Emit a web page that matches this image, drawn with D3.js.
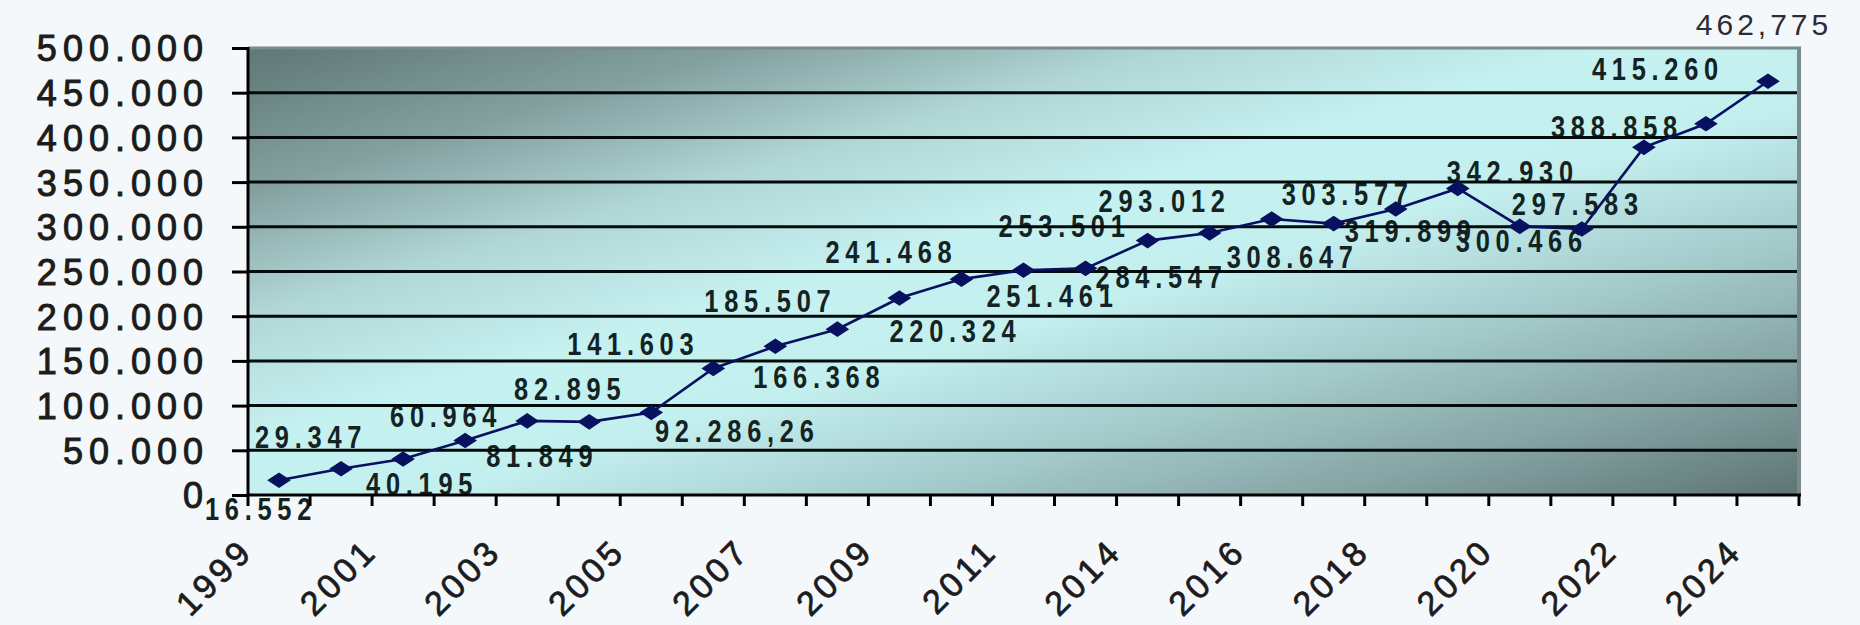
<!DOCTYPE html>
<html>
<head>
<meta charset="utf-8">
<script src="https://cdn.jsdelivr.net/npm/d3@7"></script>
<style>
  body { margin: 0; background: #f5f8fa; }
  svg { display: block; }
</style>
</head>
<body>
<div id="line_chart"></div>
<script>
// categories (every other one gets a label on the x axis)
var years = ["1999","2000","2001","2002","2003","2004","2005","2006","2007","2008",
             "2009","2010","2011","2012","2014","2015","2016","2017","2018","2019",
             "2020","2021","2022","2023","2024"];

var values = [16552, 29347, 40195, 60964, 82895, 81849, 92286.26, 141603, 166368, 185507,
              220324, 241468, 251461, 253501, 284547, 293012, 308647, 303577, 319899, 342930,
              300466, 297583, 388858, 415260, 462775];

// labels as they are written on the chart
var valueLabels = ["16.552","29.347","40.195","60.964","82.895","81.849","92.286,26","141.603","166.368","185.507",
                   "220.324","241.468","251.461","253.501","284.547","293.012","308.647","303.577","319.899","342.930",
                   "300.466","297.583","388.858","415.260","462,775"];

var yTicks = [0, 50000, 100000, 150000, 200000, 250000, 300000, 350000, 400000, 450000, 500000];
var yTickLabels = ["0","50.000","100.000","150.000","200.000","250.000","300.000","350.000","400.000","450.000","500.000"];

var xTickLabels = ["1999","2001","2003","2005","2007","2009","2011","2014","2016","2018","2020","2022","2024"];

// layout only: where each value label sits relative to its point [dx, dy]
var labelOffsets = [[-18,40],[-30,-21],[19,36],[-19,-13],[43,-21],[-47,45],[86,30],[-80,-13],[44,42],[-67,-17],
                    [56,44],[-70,-16],[29,37],[-21,-31],[14,47],[-45,-21],[21,49],[14,-19],[15,33],[55,-5],
                    [2,26],[-4,-14],[-27,-9],[-48,-44],[-4,-46]];

plot_line_graph("#line_chart", 1860, 625);

function plot_line_graph (htmlObjectId, totalWidth, totalHeight) {

    var margin = {top: 48, right: 61, bottom: 130, left: 248},
        width = totalWidth - margin.left - margin.right,
        height = totalHeight - margin.top - margin.bottom;

    var x = d3.scaleBand()
              .domain(years)
              .range([margin.left, margin.left + width])
              .padding(0);

    var y = d3.scaleLinear()
              .domain([0, 500000])
              .range([margin.top + height, margin.top]);

    var cx = function(i) { return x(years[i]) + x.bandwidth() / 2; };
    var last = values.length - 1;

    var canvas = d3.select(htmlObjectId)
                   .append("svg")
                   .attr("width", totalWidth)
                   .attr("height", totalHeight);

    // diagonal grey-teal -> cyan -> grey-teal fill of the plot area
    var grad = canvas.append("defs").append("linearGradient")
                     .attr("id", "plotbg")
                     .attr("x1", 0).attr("y1", 0).attr("x2", 1).attr("y2", 1);
    [[0, "#5f7775"], [0.16, "#83a09f"], [0.3, "#b0d7d6"], [0.44, "#c6f1f1"],
     [0.56, "#c4efef"], [0.7, "#a6cdcd"], [0.86, "#83a1a1"], [1, "#5e7474"]]
        .forEach(function(s) {
            grad.append("stop").attr("offset", s[0]).attr("stop-color", s[1]);
        });

    canvas.append("rect")
          .attr("x", margin.left)
          .attr("y", margin.top)
          .attr("width", width)
          .attr("height", height)
          .attr("fill", "url(#plotbg)");

    // value labels sit under the grid lines, like in the original
    // (squeezed horizontally to get the narrow bold look)
    canvas.append("g")
          .selectAll("text")
          .data(values)
          .enter().append("text")
          .attr("transform", function(d, i) {
              var s = i == last ? 1 : 0.82;
              return "translate(" + (cx(i) + labelOffsets[i][0]) + "," + (y(d) + labelOffsets[i][1]) + ") scale(" + s + ",1)";
          })
          .attr("text-anchor", "middle")
          .style("font-family", "'Liberation Sans', Arial, sans-serif")
          .style("font-weight", function(d, i) { return i == last ? "normal" : "bold"; })
          .style("font-size", function(d, i) { return i == last ? "30px" : "31px"; })
          .style("letter-spacing", function(d, i) { return i == last ? "4px" : "7px"; })
          .attr("fill", function(d, i) { return i == last ? "#2c2c38" : "#132222"; })
          .text(function(d, i) { return valueLabels[i]; });

    // horizontal grid lines
    canvas.append("g")
          .selectAll("line")
          .data(yTicks.slice(1, -1))
          .enter().append("line")
          .attr("x1", margin.left)
          .attr("x2", margin.left + width)
          .attr("y1", function(d) { return y(d); })
          .attr("y2", function(d) { return y(d); })
          .attr("stroke", "#020a0a")
          .attr("stroke-width", 3);

    // grey frame top and right
    canvas.append("line")
          .attr("x1", margin.left).attr("x2", margin.left + width + 2)
          .attr("y1", margin.top).attr("y2", margin.top)
          .attr("stroke", "#7b8a8a").attr("stroke-width", 3);
    canvas.append("line")
          .attr("x1", margin.left + width).attr("x2", margin.left + width)
          .attr("y1", margin.top).attr("y2", margin.top + height)
          .attr("stroke", "#7b8a8a").attr("stroke-width", 4);

    // series line
    var line = d3.line()
                 .x(function(d, i) { return cx(i); })
                 .y(function(d) { return y(d); })
                 .curve(d3.curveLinear);

    canvas.append("path")
          .datum(values)
          .attr("fill", "none")
          .attr("stroke", "#081060")
          .attr("stroke-width", 2.6)
          .attr("d", line);

    // flattened diamond markers
    canvas.append("g")
          .selectAll("path")
          .data(values)
          .enter().append("path")
          .attr("d", d3.symbol().type(d3.symbolDiamond).size(110))
          .attr("transform", function(d, i) { return "translate(" + cx(i) + "," + y(d) + ") scale(2.1,0.8)"; })
          .attr("fill", "#081060");

    // y axis
    var yaxis = d3.axisLeft(y)
                  .tickValues(yTicks)
                  .tickSize(16)
                  .tickPadding(23)
                  .tickFormat(function(d, i) { return yTickLabels[i]; });

    var gy = canvas.append("g")
                   .attr("transform", "translate(" + margin.left + ",0)")
                   .call(yaxis);
    gy.select(".domain").remove();
    gy.selectAll("line").attr("stroke", "#000").attr("stroke-width", 3);
    gy.selectAll("text")
      .attr("dy", "0.36em")
      .style("font-family", "'Liberation Sans', Arial, sans-serif")
      .style("font-size", "36px")
      .style("letter-spacing", "6px")
      .attr("fill", "#1c1c1c")
      .attr("stroke", "#1c1c1c")
      .attr("stroke-width", 1);

    canvas.append("line")
          .attr("x1", margin.left).attr("x2", margin.left)
          .attr("y1", margin.top - 1).attr("y2", margin.top + height + 11)
          .attr("stroke", "#000").attr("stroke-width", 3);

    // x axis: base line, boundary ticks between categories, rotated labels
    canvas.append("line")
          .attr("x1", margin.left).attr("x2", margin.left + width + 2)
          .attr("y1", margin.top + height).attr("y2", margin.top + height)
          .attr("stroke", "#000").attr("stroke-width", 3);

    canvas.append("g")
          .selectAll("line")
          .data(years.slice(1).concat(["end"]))
          .enter().append("line")
          .attr("x1", function(d) { return d == "end" ? margin.left + width : x(d); })
          .attr("x2", function(d) { return d == "end" ? margin.left + width : x(d); })
          .attr("y1", margin.top + height)
          .attr("y2", margin.top + height + 11)
          .attr("stroke", "#000")
          .attr("stroke-width", 3);

    var xaxis = d3.axisBottom(x)
                  .tickValues(xTickLabels)
                  .tickSize(0);

    var gx = canvas.append("g")
                   .attr("transform", "translate(0," + (margin.top + height) + ")")
                   .call(xaxis);
    gx.select(".domain").remove();
    gx.selectAll("text")
      .attr("x", 0).attr("y", 0).attr("dy", 0)
      .attr("text-anchor", "end")
      .attr("transform", "translate(-24,58) rotate(-45)")
      .style("font-family", "'Liberation Sans', Arial, sans-serif")
      .style("font-size", "34px")
      .style("letter-spacing", "4px")
      .attr("fill", "#1c1c1c")
      .attr("stroke", "#1c1c1c")
      .attr("stroke-width", 0.8);
}
</script>
</body>
</html>
